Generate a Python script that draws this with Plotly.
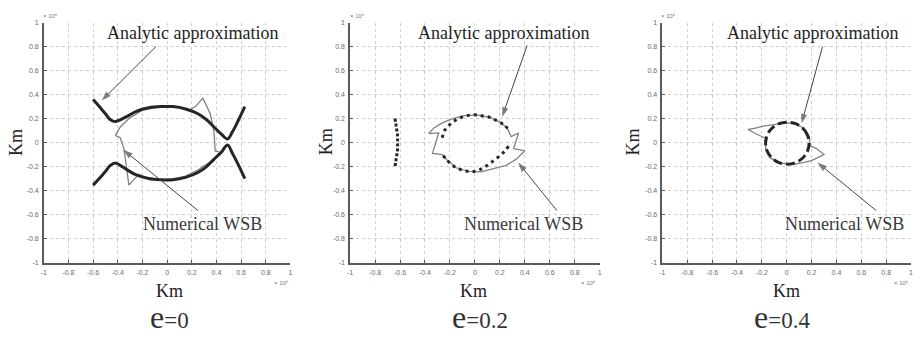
import plotly.graph_objects as go

# ---- e = 0 ----
e0_ana_x = [-0.60, -0.55, -0.50, -0.46, -0.42, -0.38, -0.32, -0.25, -0.15, -0.05,
            0.05, 0.15, 0.25, 0.32, 0.38, 0.44, 0.49, 0.53, 0.58, 0.63]
e0_ana_up_y = [0.36, 0.30, 0.24, 0.19, 0.175, 0.19, 0.22, 0.26, 0.29, 0.30,
               0.30, 0.28, 0.24, 0.19, 0.13, 0.07, 0.03, 0.09, 0.19, 0.30]
e0_ana_lo_y = [-0.355, -0.30, -0.24, -0.19, -0.17, -0.19, -0.23, -0.27, -0.30, -0.31,
               -0.31, -0.29, -0.25, -0.20, -0.14, -0.08, -0.02, -0.09, -0.19, -0.30]
e0_num_x = [-0.42, -0.38, -0.31, -0.20, -0.10, 0.00, 0.10, 0.18, 0.23, 0.29, 0.35, 0.38,
            0.39, 0.43, 0.35, 0.25, 0.15, 0.05, -0.05, -0.15, -0.23, -0.31, -0.33,
            -0.35, -0.38, -0.42]
e0_num_y = [0.06, 0.13, 0.20, 0.27, 0.29, 0.30, 0.29, 0.27, 0.30, 0.37, 0.24, 0.09,
            -0.07, -0.08, -0.16, -0.23, -0.28, -0.30, -0.31, -0.30, -0.265, -0.355,
            -0.20, -0.05, 0.04, 0.06]

# ---- e = 0.2 ----
e2_ana_up_x = [-0.26, -0.25, -0.22, -0.18, -0.13, -0.08, -0.03, 0.02, 0.07, 0.12,
               0.16, 0.20, 0.24, 0.28]
e2_ana_up_y = [0.04, 0.09, 0.13, 0.17, 0.20, 0.22, 0.23, 0.23, 0.22, 0.21,
               0.19, 0.17, 0.14, 0.10]
e2_ana_lo_x = [0.27, 0.24, 0.20, 0.15, 0.10, 0.05, 0.00, -0.05, -0.10, -0.15,
               -0.19, -0.23, -0.26]
e2_ana_lo_y = [-0.03, -0.07, -0.11, -0.15, -0.19, -0.22, -0.24, -0.24, -0.23, -0.21,
               -0.18, -0.14, -0.10]
e2_ana_left_x = [-0.64, -0.63, -0.62, -0.62, -0.62, -0.63, -0.64]
e2_ana_left_y = [0.20, 0.13, 0.06, 0.00, -0.06, -0.13, -0.20]
e2_num_x = [-0.37, -0.33, -0.27, -0.18, -0.08, 0.02, 0.12, 0.20, 0.26, 0.29, 0.35,
            0.31, 0.40, 0.33, 0.25, 0.15, 0.05, -0.05, -0.15, -0.22, -0.26, -0.34,
            -0.29, -0.37]
e2_num_y = [0.075, 0.12, 0.16, 0.20, 0.225, 0.23, 0.21, 0.17, 0.12, 0.05, 0.08,
            -0.05, -0.07, -0.14, -0.19, -0.22, -0.245, -0.24, -0.21, -0.15, -0.10,
            -0.09, 0.08, 0.075]

# ---- e = 0.4 ----
e4_ana_x = [0.18, 0.167, 0.129, 0.072, 0.005, -0.062, -0.119, -0.157, -0.17,
            -0.157, -0.119, -0.062, 0.005, 0.072, 0.129, 0.167, 0.18]
e4_ana_y = [-0.005, 0.062, 0.119, 0.157, 0.17, 0.157, 0.119, 0.062, -0.005,
            -0.072, -0.129, -0.167, -0.18, -0.167, -0.129, -0.072, -0.005]
e4_num_x = [-0.10, -0.18, -0.25, -0.31, -0.26, -0.20, -0.16, -0.17, -0.13, -0.05,
            0.04, 0.12, 0.20, 0.30, 0.24, 0.19, 0.18, 0.14, 0.06, -0.02, -0.10]
e4_num_y = [0.15, 0.14, 0.12, 0.11, 0.08, 0.05, 0.03, -0.05, -0.13, -0.17,
            -0.185, -0.17, -0.15, -0.10, -0.05, -0.03, 0.05, 0.12, 0.16, 0.165, 0.15]

tick_vals = [-1, -0.8, -0.6, -0.4, -0.2, 0, 0.2, 0.4, 0.6, 0.8, 1]
tick_text = ["-1", "-0.8", "-0.6", "-0.4", "-0.2", "0", "0.2", "0.4", "0.6", "0.8", "1"]
panel_labels = ["e=0", "e=0.2", "e=0.4"]

W, H = 916, 337
x_domains_px = [(41, 289), (349, 600), (663, 913)]
y_top_px, y_bot_px = 19, 264

ANA = "#262626"
NUM = "#808080"
ARROW = "#454545"

fig = go.Figure()
axes = [("x", "y"), ("x2", "y2"), ("x3", "y3")]


def num_line(x, y, ax):
    fig.add_trace(go.Scatter(x=x, y=y, mode="lines", xaxis=ax[0], yaxis=ax[1],
                             line=dict(color=NUM, width=1.3), hoverinfo="skip"))


def ana_line(x, y, ax, dash="solid", width=3):
    fig.add_trace(go.Scatter(x=x, y=y, mode="lines", xaxis=ax[0], yaxis=ax[1],
                             line=dict(color=ANA, width=width, dash=dash, shape="spline"),
                             hoverinfo="skip"))


def arrow(tail, head, ax):
    # thin leader line ending in an arrowhead that follows the line direction
    fig.add_trace(go.Scatter(x=[tail[0], head[0]], y=[tail[1], head[1]],
                             mode="lines+markers", xaxis=ax[0], yaxis=ax[1],
                             line=dict(color=ARROW, width=1),
                             marker=dict(symbol="arrow", angleref="previous",
                                         size=[0, 10], color=ARROW, line=dict(width=0)),
                             hoverinfo="skip"))


# e = 0
num_line(e0_num_x, e0_num_y, axes[0])
ana_line(e0_ana_x, e0_ana_up_y, axes[0])
ana_line(e0_ana_x, e0_ana_lo_y, axes[0])

# e = 0.2
num_line(e2_num_x, e2_num_y, axes[1])
ana_line(e2_ana_up_x, e2_ana_up_y, axes[1], dash="3px,4px")
ana_line(e2_ana_lo_x, e2_ana_lo_y, axes[1], dash="3px,4px")
ana_line(e2_ana_left_x, e2_ana_left_y, axes[1], dash="3px,2px")

# e = 0.4
num_line(e4_num_x, e4_num_y, axes[2])
ana_line(e4_ana_x, e4_ana_y, axes[2], dash="9px,4px")

axis_common = dict(range=[-1, 1], tickvals=tick_vals, ticktext=tick_text,
                   showgrid=True, gridcolor="#cfcfcf", griddash="dot", gridwidth=1,
                   zeroline=False, showline=True, linecolor="#5a5a5a", linewidth=1.5,
                   ticks="inside", ticklen=3, tickcolor="#5a5a5a", mirror=False,
                   tickfont=dict(family="Liberation Sans", size=7, color="#6a6a6a"),
                   fixedrange=True)

yd = [1 - y_bot_px / H, 1 - y_top_px / H]
layout = dict(width=W, height=H, margin=dict(l=0, r=0, t=0, b=0),
              paper_bgcolor="white", plot_bgcolor="white", showlegend=False)
for i, (a, b) in enumerate(x_domains_px):
    sfx = "" if i == 0 else str(i + 1)
    layout["xaxis" + sfx] = dict(axis_common, domain=[a / W, b / W],
                                 anchor="y" + sfx, ticklabelstandoff=2)
    layout["yaxis" + sfx] = dict(axis_common, domain=yd, anchor="x" + sfx,
                                 ticklabelstandoff=2)
fig.update_layout(**layout)

serif = "Liberation Serif, Times New Roman, serif"
ann = []


def px_ann(text, x, y, size, angle=0, color="#222", family=serif):
    ann.append(dict(text=text, x=x / W, y=1 - y / H, xref="paper", yref="paper",
                    showarrow=False, textangle=angle, xanchor="center", yanchor="middle",
                    font=dict(family=family, size=size, color=color)))


# axis titles, panel captions and exponent labels
ylab_x = [13, 325, 634]
xlab_x = [167, 473, 788]
cap_x = [167, 480, 783]
exp_tl = [48, 356, 669]
exp_br = [280, 589, 903]
for i in range(3):
    px_ann("Km", ylab_x[i], 141, 18, angle=-90)
    px_ann("Km", xlab_x[i], 293, 18)
    lab = panel_labels[i]
    px_ann("<span style='font-size:32px'>" + lab[0] + "</span>" + lab[1:],
           cap_x[i], 320, 23, color="#333")
    px_ann("× 10⁶", exp_tl[i], 12, 6, color="#777", family="Liberation Sans")
    px_ann("× 10⁶", exp_br[i], 285, 6, color="#777", family="Liberation Sans")

# callout texts and leader arrows, in each panel's data coordinates
callouts = [
    ((0.21, 0.91), (0.29, -0.68), ((-0.09, 0.80), (-0.53, 0.35)), ((0.25, -0.567), (-0.355, -0.06))),
    ((0.227, 0.91), (0.386, -0.68), ((0.418, 0.81), (0.219, 0.216)), ((0.657, -0.567), (0.347, -0.167))),
    ((0.208, 0.91), (0.464, -0.68), ((0.288, 0.80), (0.12, 0.16)), ((0.72, -0.567), (0.248, -0.167))),
]
for ax, (ta, tn, aa, an) in zip(axes, callouts):
    ann.append(dict(text="Analytic approximation", x=ta[0], y=ta[1], xref=ax[0], yref=ax[1],
                    showarrow=False, font=dict(family=serif, size=18, color="#1e1e1e")))
    ann.append(dict(text="Numerical WSB", x=tn[0], y=tn[1], xref=ax[0], yref=ax[1],
                    showarrow=False, font=dict(family=serif, size=18, color="#3a3a3a")))
    arrow(aa[0], aa[1], ax)
    arrow(an[0], an[1], ax)

fig.update_layout(annotations=ann)
fig.write_html("out.html")
